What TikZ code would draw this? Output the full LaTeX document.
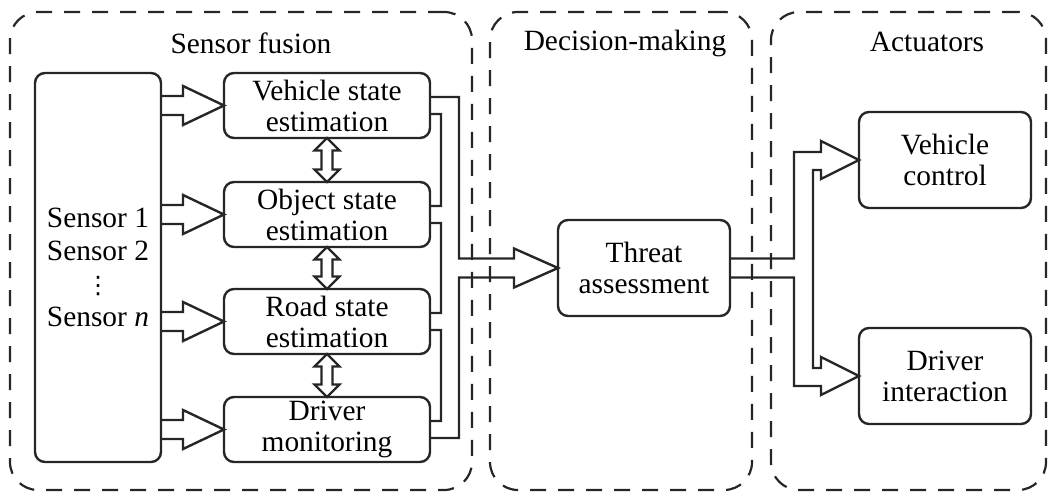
\documentclass[tikz,border=0pt]{standalone}
\usepackage{fontspec}
\setmainfont{Liberation Serif}
\newfontfamily\dotsfont{DejaVu Sans}
\usetikzlibrary{calc}

\tikzset{
  ink/.style={draw=black!85, line width=1.2pt},
  block/.style={ink, rectangle, rounded corners=5pt, align=center,
    inner sep=0pt, outer sep=0pt, font=\fontsize{14.7}{15.5}\selectfont},
  stage/.style={draw=black!85, line width=1.1pt, dash pattern=on 8pt off 6pt,
    rectangle, rounded corners=14pt, inner sep=0pt, outer sep=0pt,
    minimum height=239pt},
  title/.style={font=\fontsize{14.7}{16}\selectfont, inner sep=0pt},
  hollow/.style={ink, line join=miter},
}

% hollow arrow pointing right: #1 = start point on the left, #2 = tip
\newcommand\hollowR[2]{%
  \draw[hollow] let \p1=(#1), \p2=(#2) in
    (\x1,\y2+4.75pt) -- (\x2-20.5pt,\y2+4.75pt) -- (\x2-20.5pt,\y2+9.75pt)
    -- (\x2,\y2) -- (\x2-20.5pt,\y2-9.75pt) -- (\x2-20.5pt,\y2-4.75pt)
    -- (\x1,\y2-4.75pt);}

% hollow double-headed vertical arrow: #1 = upper tip, #2 = lower tip
\newcommand\hollowUD[2]{%
  \draw[hollow] let \p1=(#1), \p2=(#2) in
    (\x1,\y1) -- (\x1+6.25pt,\y1-6.25pt) -- (\x1+2.75pt,\y1-6.25pt)
    -- (\x1+2.75pt,\y2+6.25pt) -- (\x1+6.25pt,\y2+6.25pt) -- (\x1,\y2)
    -- (\x1-6.25pt,\y2+6.25pt) -- (\x1-2.75pt,\y2+6.25pt)
    -- (\x1-2.75pt,\y1-6.25pt) -- (\x1-6.25pt,\y1-6.25pt) -- cycle;}

\begin{document}
\begin{tikzpicture}[x=0.5pt, y=-0.5pt]
  \useasboundingbox (0,0) rectangle (1052,496);

  % three processing stages
  \node[stage, minimum width=231pt]   (sf) at (241,251) {};
  \node[stage, minimum width=131pt]   (dm) at (621,251) {};
  \node[stage, minimum width=137.5pt] (ac) at (908.5,251) {};
  \node[title] (sft) at (251,43) {Sensor fusion};
  \node[title] (dmt) at (625,43) {Decision-making};
  \node[title] (act) at (927,42) {Actuators};

  % sensors
  \node[block, minimum width=63pt, minimum height=194.5pt,
        font=\fontsize{14.7}{16.5}\selectfont] (sens) at (98,267.5)
    {Sensor 1\\Sensor 2\\{\dotsfont\fontsize{12}{12}\selectfont ⋮}\\Sensor \textit{n}};

  % estimation blocks
  \node[block, minimum width=103pt, minimum height=32.5pt] (veh)  at (327,105.5) {Vehicle state\\estimation};
  \node[block, minimum width=103pt, minimum height=32.5pt] (obj)  at (327,214.5) {Object state\\estimation};
  \node[block, minimum width=103pt, minimum height=32.5pt] (road) at (327,321.5) {Road state\\estimation};
  \node[block, minimum width=103pt, minimum height=32.5pt] (drv)  at (327,429.5) {Driver\\monitoring};

  % decision and actuation blocks
  \node[block, minimum width=86pt, minimum height=48pt] (threat) at (644,268) {Threat\\assessment};
  \node[block, minimum width=86pt, minimum height=48pt] (vc)     at (945,160) {Vehicle\\control};
  \node[block, minimum width=86pt, minimum height=48pt] (di)     at (945,376) {Driver\\interaction};

  % sensor data into each estimator
  \hollowR{sens.east |- veh.west}{veh.west}
  \hollowR{sens.east |- obj.west}{obj.west}
  \hollowR{sens.east |- road.west}{road.west}
  \hollowR{sens.east |- drv.west}{drv.west}

  % exchange between estimators
  \hollowUD{veh.south}{obj.north}
  \hollowUD{obj.south}{road.north}
  \hollowUD{road.south}{drv.north}

  % collecting bus into threat assessment
  \draw[hollow] let \p1=(veh.east), \p2=(obj.east), \p3=(road.east),
                    \p4=(drv.east), \p5=(threat.west) in
    (\x1,\y1+4.25pt) -- (\x1+14.5pt,\y1+4.25pt) -- (\x1+14.5pt,\y5+4.75pt)
    -- (\x5-22pt,\y5+4.75pt) -- (\x5-22pt,\y5+9.75pt) -- (\x5,\y5)
    -- (\x5-22pt,\y5-9.75pt) -- (\x5-22pt,\y5-4.75pt)
    -- (\x1+14.5pt,\y5-4.75pt) -- (\x1+14.5pt,\y4-4.25pt) -- (\x4,\y4-4.25pt)
    (\x1,\y1-4.25pt) -- (\x1+5.5pt,\y1-4.25pt) -- (\x1+5.5pt,\y2+4.25pt) -- (\x2,\y2+4.25pt)
    (\x2,\y2-4.25pt) -- (\x2+5.5pt,\y2-4.25pt) -- (\x2+5.5pt,\y3+4.25pt) -- (\x3,\y3+4.25pt)
    (\x3,\y3-4.25pt) -- (\x3+5.5pt,\y3-4.25pt) -- (\x3+5.5pt,\y4+4.25pt) -- (\x4,\y4+4.25pt);

  % fork from threat assessment to the actuators
  \draw[hollow] let \p1=(threat.east), \p2=(vc.west), \p3=(di.west) in
    (\x1,\y1+4.75pt) -- (\x1+32pt,\y1+4.75pt) -- (\x1+32pt,\y2+4pt)
    -- (\x2-19pt,\y2+4pt) -- (\x2-19pt,\y2+9.5pt) -- (\x2,\y2)
    -- (\x2-19pt,\y2-9.5pt) -- (\x2-19pt,\y2-5pt)
    -- (\x1+41.5pt,\y2-5pt) -- (\x1+41.5pt,\y3+4pt)
    -- (\x3-19pt,\y3+4pt) -- (\x3-19pt,\y3+9.5pt) -- (\x3,\y3)
    -- (\x3-19pt,\y3-9.5pt) -- (\x3-19pt,\y3-5pt)
    -- (\x1+32pt,\y3-5pt) -- (\x1+32pt,\y1-4.75pt) -- (\x1,\y1-4.75pt);
\end{tikzpicture}
\end{document}
